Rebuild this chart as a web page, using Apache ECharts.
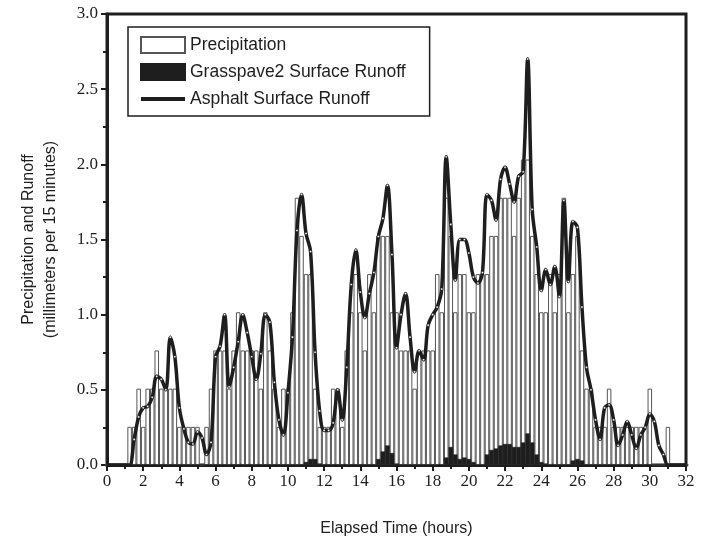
<!DOCTYPE html>
<html><head><meta charset="utf-8">
<script src="https://cdn.jsdelivr.net/npm/echarts@6/dist/echarts.min.js"></script>
<style>html,body{margin:0;padding:0;background:#fff}#c{width:711px;height:541px}</style>
</head><body><div id="c"></div>
<script>
// 15-minute intervals, index i => elapsed time i * STEP hours (0 .. 32 h)
const STEP = 0.25;
const seriesNames = ['Precipitation', 'Grasspave2 Surface Runoff', 'Asphalt Surface Runoff'];

// Precipitation (mm per 15 minutes), one value per 15-min interval from t = 0 h
const precipitation = [
  0, 0, 0, 0, 0, 0.254, 0.254, 0.508,                // 0.00 - 1.75
  0.254, 0.508, 0.508, 0.762, 0.508, 0.508, 0.508, 0.508, // 2.00 - 3.75
  0.254, 0.254, 0.254, 0.254, 0.254, 0, 0.254, 0.508,     // 4.00 - 5.75
  0.762, 0.762, 0.762, 0.508, 0.762, 1.016, 0.762, 0.762, // 6.00 - 7.75
  0.762, 0.762, 0.508, 1.016, 0.762, 0.508, 0.254, 0.508, // 8.00 - 9.75
  0.508, 1.016, 1.778, 1.524, 1.27, 1.27, 0.508, 0.254,   // 10.00 - 11.75
  0.254, 0.254, 0.508, 0.508, 0.254, 0.762, 1.016, 1.27,  // 12.00 - 13.75
  1.016, 0.762, 1.27, 1.016, 1.524, 1.524, 1.524, 1.016,  // 14.00 - 15.75
  1.016, 0.762, 0.762, 0.762, 0.508, 0.762, 0.762, 0.762, // 16.00 - 17.75
  0.762, 1.27, 1.016, 1.778, 1.524, 1.016, 1.27, 1.27,    // 18.00 - 19.75
  1.016, 1.016, 1.27, 1.27, 1.27, 1.524, 1.524, 1.778,    // 20.00 - 21.75
  1.778, 1.778, 1.524, 1.778, 2.032, 2.032, 1.524, 1.27,  // 22.00 - 23.75
  1.016, 1.016, 1.27, 1.016, 1.27, 1.778, 1.016, 1.27,    // 24.00 - 25.75
  1.524, 0.762, 0.508, 0.508, 0.254, 0.254, 0.254, 0.508, // 26.00 - 27.75
  0.254, 0.254, 0.254, 0.254, 0.254, 0.254, 0.254, 0.254, // 28.00 - 29.75
  0.508, 0, 0, 0, 0.254, 0, 0, 0,                          // 30.00 - 31.75
  0                                                        // 32.00
];

// Grasspave2 surface runoff (mm per 15 minutes)
const grasspaveRunoff = [
  0, 0, 0, 0, 0, 0, 0, 0,
  0, 0, 0, 0, 0, 0, 0, 0,
  0, 0, 0, 0, 0, 0, 0, 0,
  0, 0, 0, 0, 0, 0, 0, 0,
  0, 0, 0, 0, 0, 0, 0, 0,
  0, 0, 0, 0, 0.02, 0.04, 0.04, 0.01,
  0, 0, 0, 0, 0, 0, 0, 0,
  0, 0, 0, 0, 0.04, 0.09, 0.13, 0.08,
  0.01, 0, 0, 0, 0, 0, 0, 0,
  0, 0, 0, 0.05, 0.12, 0.07, 0.04, 0.05,
  0.04, 0.02, 0, 0, 0.07, 0.10, 0.11, 0.13,
  0.14, 0.14, 0.12, 0.12, 0.15, 0.21, 0.15, 0.07,
  0.02, 0.01, 0, 0, 0, 0, 0, 0.03,
  0.04, 0.03, 0, 0, 0, 0, 0, 0,
  0, 0, 0, 0, 0, 0, 0, 0,
  0, 0, 0, 0, 0, 0, 0, 0,
  0
];

// Asphalt surface runoff (mm per 15 minutes)
const asphaltRunoff = [
  0, 0, 0, 0, 0, 0, 0.17, 0.32,
  0.38, 0.39, 0.45, 0.59, 0.57, 0.50, 0.85, 0.72,
  0.38, 0.24, 0.15, 0.14, 0.22, 0.18, 0.07, 0.15,
  0.72, 0.79, 1.00, 0.52, 0.65, 0.82, 1.00, 0.88,
  0.72, 0.57, 0.74, 1.00, 0.95, 0.55, 0.30, 0.20,
  0.48, 0.85, 1.56, 1.80, 1.54, 1.42, 0.75, 0.36,
  0.23, 0.23, 0.28, 0.50, 0.30, 0.65, 1.20, 1.43,
  1.15, 0.98, 1.14, 1.28, 1.52, 1.64, 1.86, 1.40,
  0.78, 1.00, 1.14, 0.85, 0.62, 0.76, 0.70, 0.93,
  1.00, 1.05, 1.17, 2.05, 1.60, 1.23, 1.50, 1.50,
  1.41, 1.25, 1.21, 1.28, 1.80, 1.76, 1.63, 1.90,
  1.98, 1.87, 1.75, 1.92, 1.95, 2.70, 1.70, 1.45,
  1.16, 1.30, 1.20, 1.32, 1.12, 1.76, 1.22, 1.62,
  1.58, 1.05, 0.65, 0.50, 0.30, 0.17, 0.38, 0.40,
  0.30, 0.13, 0.20, 0.29, 0.20, 0.11, 0.20, 0.25,
  0.34, 0.29, 0.13, 0.07, 0, 0, 0, 0,
  0
];

const xAxisRange = { min: 0, max: 32, interval: 2 };
const yAxisRange = { min: 0, max: 3, interval: 0.5 };

const pairs = arr => arr.map((v, i) => [i * STEP, v]);
// line points: hide the tiny marker where the runoff is zero (flat baseline)
const linePoints = arr => arr.map((v, i) => v > 0 ? [i * STEP, v]
  : { value: [i * STEP, v], symbol: 'none' });
const ink = '#1e1e1e';
const serif = '"Liberation Serif", "Times New Roman", serif';
const sans = '"Liberation Sans", Arial, sans-serif';

const chart = echarts.init(document.getElementById('c'), null, { renderer: 'canvas' });
chart.setOption({
  animation: false,
  backgroundColor: '#fff',
  grid: { left: 107, right: 25, top: 14, bottom: 76, show: true, borderColor: ink, borderWidth: 3,
          backgroundColor: 'transparent', containLabel: false, outerBoundsMode: 'none' },
  legend: {
    orient: 'vertical', left: 128, top: 27,
    padding: [9, 24, 8, 12], itemGap: 9, itemWidth: 44, itemHeight: 16,
    borderColor: ink, borderWidth: 1.5, backgroundColor: '#fff', borderRadius: 0,
    textStyle: { fontFamily: sans, fontSize: 17.5, color: ink },
    data: [
      { name: seriesNames[0], icon: 'rect' },
      { name: seriesNames[1], icon: 'rect' },
      { name: seriesNames[2], icon: 'path://M0,0h44v4h-44z',
        itemStyle: { color: ink, borderWidth: 0 } }
    ]
  },
  xAxis: {
    type: 'value', min: xAxisRange.min, max: xAxisRange.max, interval: xAxisRange.interval,
    name: 'Elapsed Time (hours)', nameLocation: 'middle', nameGap: 56,
    nameTextStyle: { fontFamily: sans, fontSize: 16, color: ink },
    axisLine: { show: true, onZero: false, lineStyle: { color: ink, width: 3 } },
    axisTick: { show: true, inside: false, length: 6, lineStyle: { color: ink, width: 2 } },
    minorTick: { show: true, splitNumber: 2, length: 4, lineStyle: { color: ink, width: 2 } },
    axisLabel: { fontFamily: serif, fontSize: 17, color: ink, margin: 8 },
    splitLine: { show: false }, minorSplitLine: { show: false }
  },
  yAxis: {
    type: 'value', min: yAxisRange.min, max: yAxisRange.max, interval: yAxisRange.interval,
    name: 'Precipitation and Runoff\n(millimeters per 15 minutes)',
    nameLocation: 'middle', nameGap: 45, nameRotate: 90,
    nameTextStyle: { fontFamily: sans, fontSize: 16, lineHeight: 22, color: ink, align: 'center' },
    axisLine: { show: true, lineStyle: { color: ink, width: 3 } },
    axisTick: { show: true, inside: false, length: 6, lineStyle: { color: ink, width: 2 } },
    minorTick: { show: true, splitNumber: 2, length: 4, lineStyle: { color: ink, width: 2 } },
    axisLabel: { fontFamily: serif, fontSize: 17, color: ink, margin: 9,
                 formatter: v => v.toFixed(1) },
    splitLine: { show: false }, minorSplitLine: { show: false }
  },
  series: [
    {
      name: seriesNames[0], type: 'bar', data: pairs(precipitation),
      barWidth: '100%', barGap: '-100%', z: 2,
      itemStyle: { color: '#fff', borderColor: '#555', borderWidth: 1 },
      emphasis: { disabled: true }
    },
    {
      name: seriesNames[1], type: 'bar', data: pairs(grasspaveRunoff),
      barWidth: '100%', barGap: '-100%', z: 3,
      itemStyle: { color: ink, borderColor: ink, borderWidth: 0.5 },
      emphasis: { disabled: true }
    },
    {
      name: seriesNames[2], type: 'line', data: linePoints(asphaltRunoff), z: 4,
      smooth: 0.35, symbol: 'circle', symbolSize: 2.2, showSymbol: true,
      lineStyle: { color: ink, width: 3.5 },
      itemStyle: { color: '#fff', borderColor: ink, borderWidth: 0.4 },
      emphasis: { disabled: true }
    }
  ]
});
</script></body></html>
